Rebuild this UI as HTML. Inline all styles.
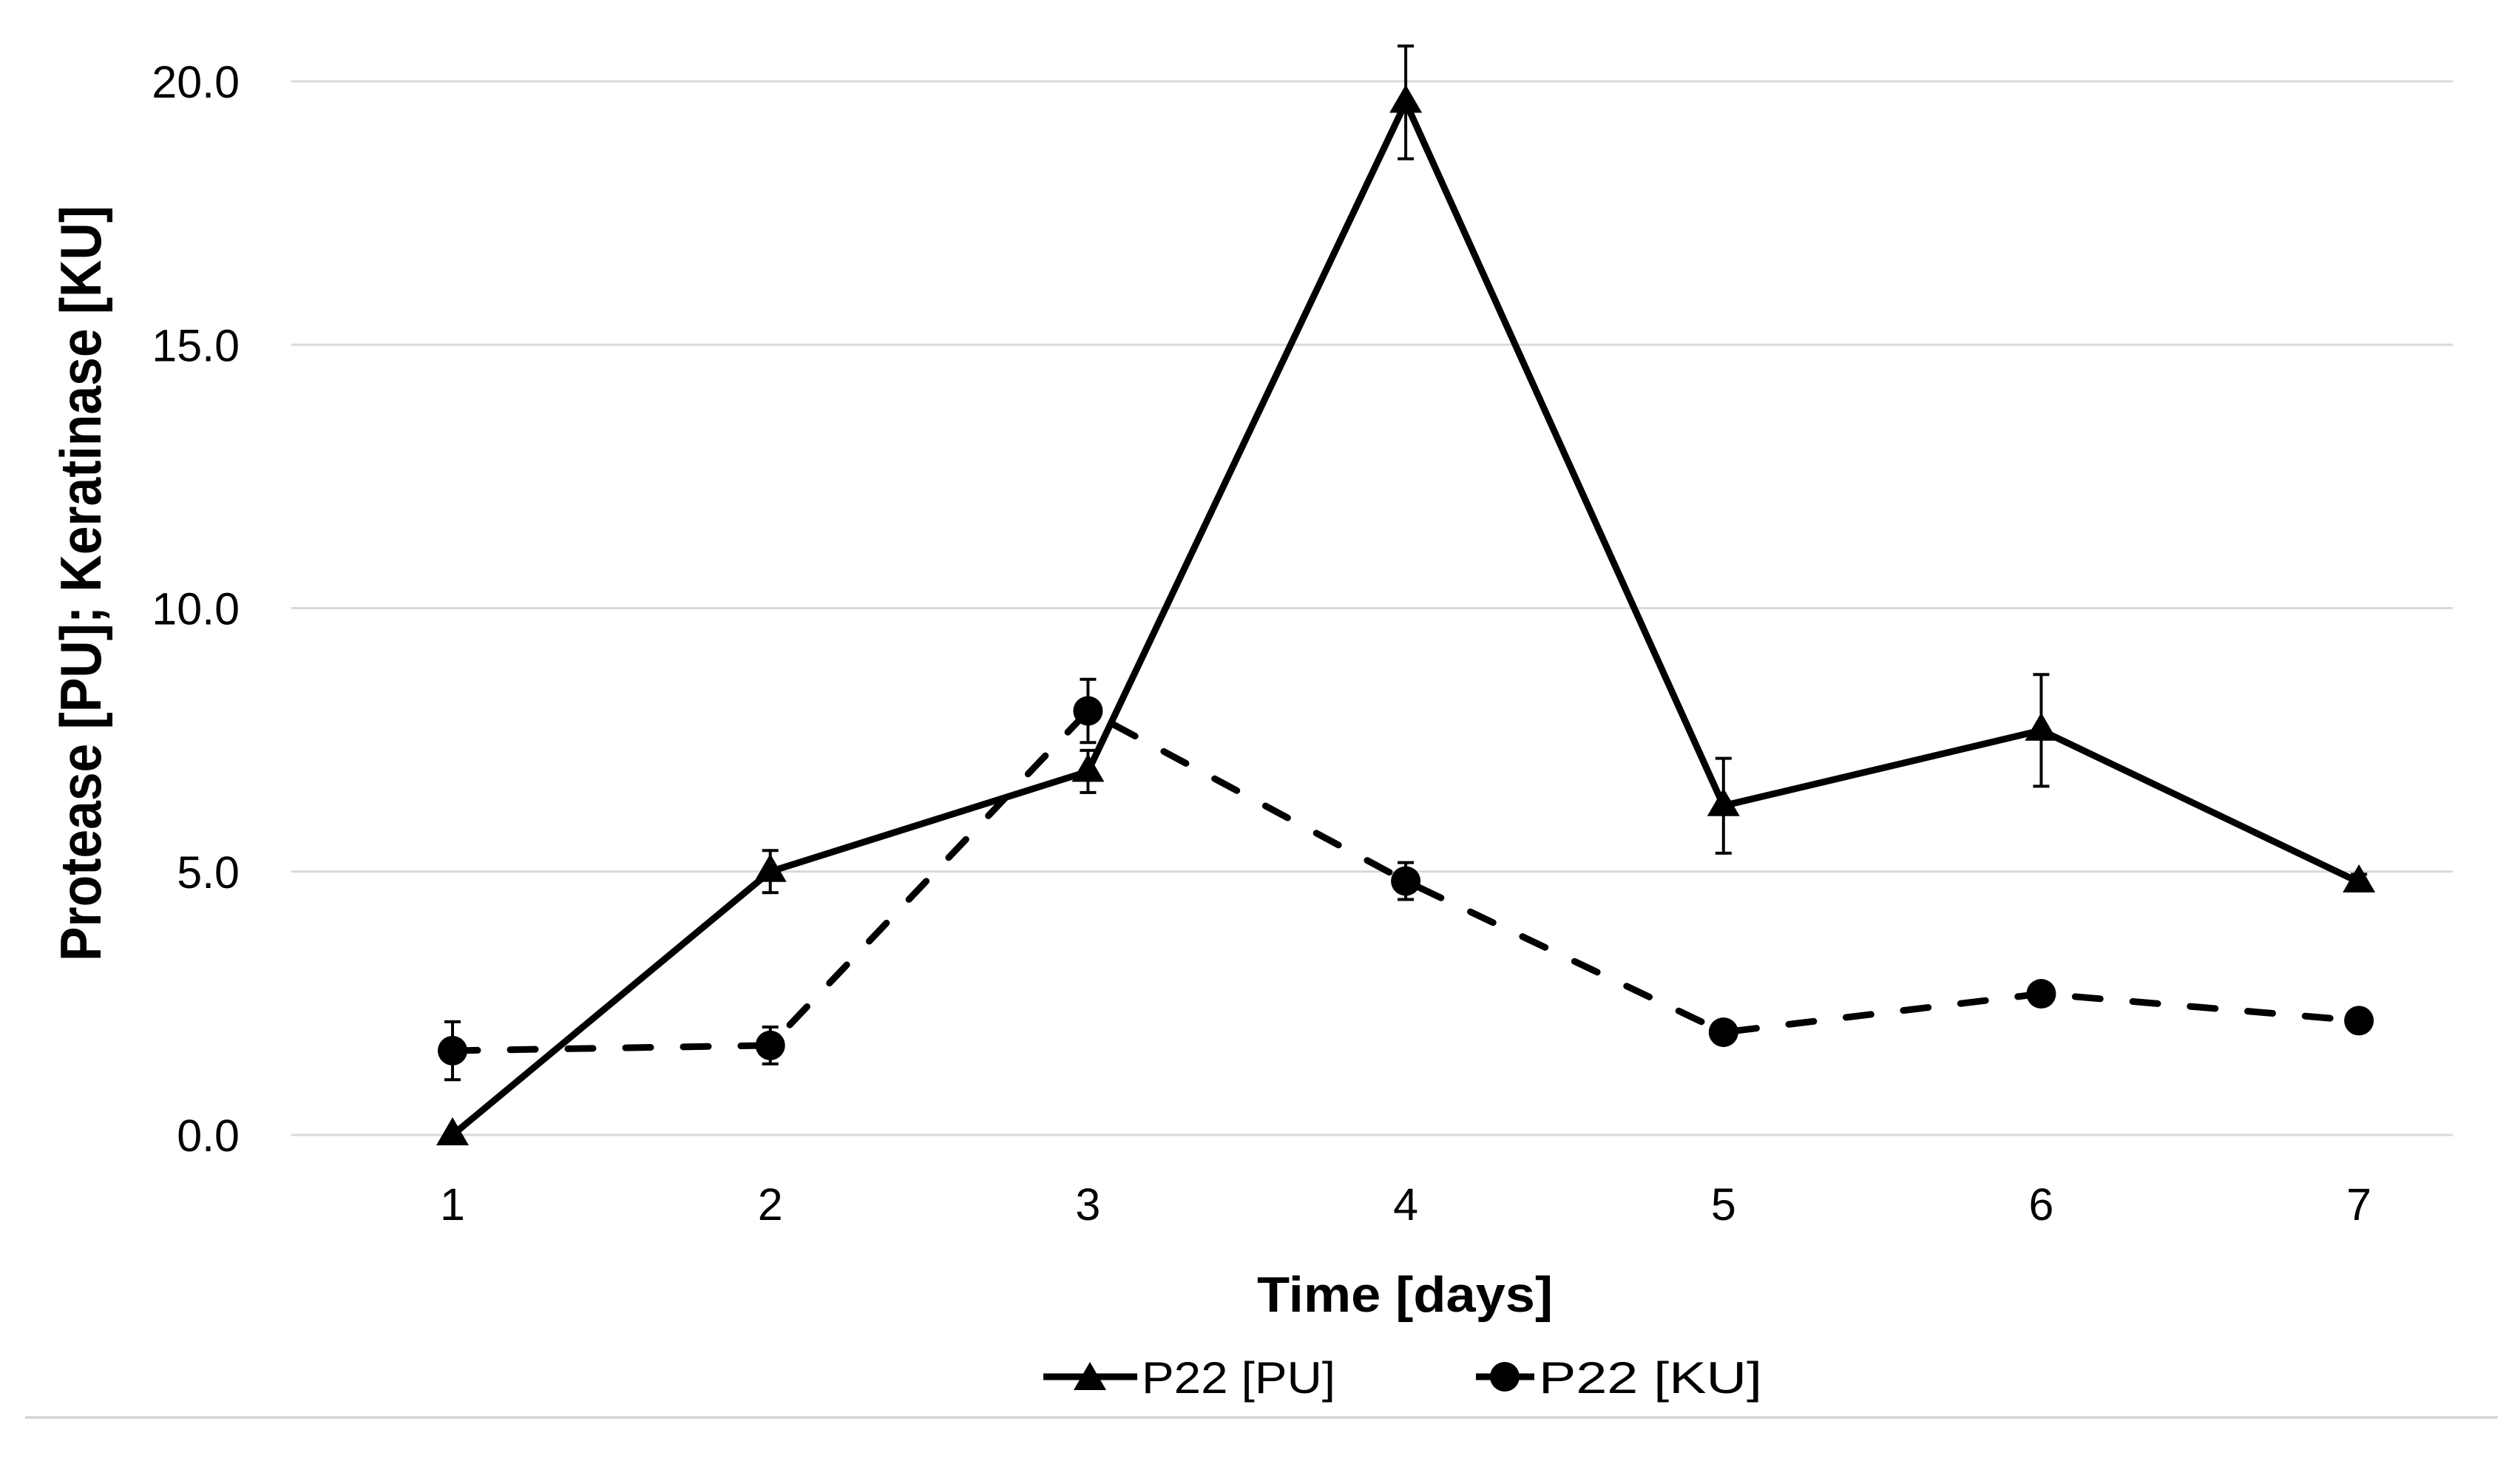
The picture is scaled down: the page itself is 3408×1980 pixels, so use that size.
<!DOCTYPE html>
<html><head><meta charset="utf-8"><style>
html,body{margin:0;padding:0;background:#fff;}
svg{display:block;font-family:"Liberation Sans",sans-serif;}
</style></head><body>
<svg id="chart" width="3408" height="1980" viewBox="0 0 3408 1980" xmlns="http://www.w3.org/2000/svg">
<rect width="3408" height="1980" fill="#fff"/>
<g id="grid"></g>
<g id="yticks"></g>
<g id="xticks"></g>
<text transform="translate(136,789) rotate(-90)" text-anchor="middle" font-size="78" font-weight="bold" textLength="1022" lengthAdjust="spacingAndGlyphs">Protease [PU];  Keratinase [KU]</text>
<text x="1900" y="1774" text-anchor="middle" font-size="68" font-weight="bold" textLength="400" lengthAdjust="spacingAndGlyphs">Time [days]</text>
<g id="series"></g>
<g>
  <g>
    <line x1="1411" y1="1862" x2="1538" y2="1862" stroke="#000" stroke-width="9"/>
    <polygon points="1474,1842 1496,1880 1452,1880" fill="#000"/>
    <text x="1544" y="1884" font-size="60" textLength="262" lengthAdjust="spacingAndGlyphs">P22 [PU]</text>
  </g>
  <g>
    <line x1="1996" y1="1862" x2="2075" y2="1862" stroke="#000" stroke-width="9"/>
    <circle cx="2035" cy="1862" r="20" fill="#000"/>
    <text x="2081" y="1884" font-size="60" textLength="302" lengthAdjust="spacingAndGlyphs">P22 [KU]</text>
  </g>
</g>
<line x1="34" y1="1917" x2="3378" y2="1917" stroke="#d9d9d9" stroke-width="4"/>
</svg>
<script>
const categories = ["1","2","3","4","5","6","7"];
const yTicks = [0, 5, 10, 15, 20];
const yTickLabels = ["0.0","5.0","10.0","15.0","20.0"];
const puValues = [0, 5.0, 6.9, 19.6, 6.25, 7.68, 4.8];
const puErrors = [0, 0.4, 0.4, 1.07, 0.9, 1.06, 0.15];
const kuValues = [1.6, 1.7, 8.05, 4.82, 1.95, 2.68, 2.17];
const kuErrors = [0.55, 0.35, 0.6, 0.35, 0.15, 0.15, 0.15];

const NS = "http://www.w3.org/2000/svg";
const plotL = 394, plotR = 3317, y0 = 1535, yTop = 110, yMax = 20;
const x1 = 612, step = 429.7;
function xScale(i){ return x1 + i*step; }
function yScale(v){ return y0 - (v/yMax)*(y0-yTop); }
function mk(tag, attrs, parent){
  const e = document.createElementNS(NS, tag);
  for (const k in attrs) e.setAttribute(k, attrs[k]);
  parent.appendChild(e);
  return e;
}
const grid = document.getElementById('grid');
const yt = document.getElementById('yticks');
yTicks.forEach((t,i)=>{
  const l = mk('line',{x1:plotL,x2:plotR,y1:yScale(t),y2:yScale(t),stroke:'#d9d9d9','stroke-width':3},grid);
  
  
  const tx = mk('text',{x:324,y:yScale(t)+22,'text-anchor':'end','font-size':61},yt);
  tx.textContent = yTickLabels[i];
  
  
});
const xt = document.getElementById('xticks');
categories.forEach((c,i)=>{
  const tx = mk('text',{x:xScale(i),y:1650,'text-anchor':'middle','font-size':61},xt);
  tx.textContent = c;
  
  
});
const series = document.getElementById('series');
function drawSeries(vals, errs, dashed, marker, name){
  const g = mk('g',{},series);
  
  
  const pts = vals.map((v,i)=>xScale(i)+','+yScale(v)).join(' ');
  const attrs = {points:pts,fill:'none',stroke:'#000','stroke-width':9,'stroke-linejoin':'round'};
  if (dashed){ attrs['stroke-dasharray']='34 44'; attrs['stroke-linecap']='round'; }
  const pl = mk('polyline',attrs,g);
  
  
  vals.forEach((v,i)=>{
    const x = xScale(i), y = yScale(v);
    if (errs[i] > 0){
      const hi = yScale(v+errs[i]), lo = yScale(v-errs[i]);
      const eb = mk('path',{d:`M${x},${hi}V${lo}M${x-11},${hi}H${x+11}M${x-11},${lo}H${x+11}`,stroke:'#000','stroke-width':4,fill:'none'},g);
      
      
    }
    let m;
    if (marker==='tri'){
      m = mk('polygon',{points:`${x},${y-24} ${x+22},${y+14} ${x-22},${y+14}`,fill:'#000'},g);
    } else {
      m = mk('circle',{cx:x,cy:y,r:20,fill:'#000'},g);
    }
    
    
  });
}
drawSeries(kuValues, kuErrors, true, 'circ', 'series-ku');
drawSeries(puValues, puErrors, false, 'tri', 'series-pu');
</script>
</body></html>
